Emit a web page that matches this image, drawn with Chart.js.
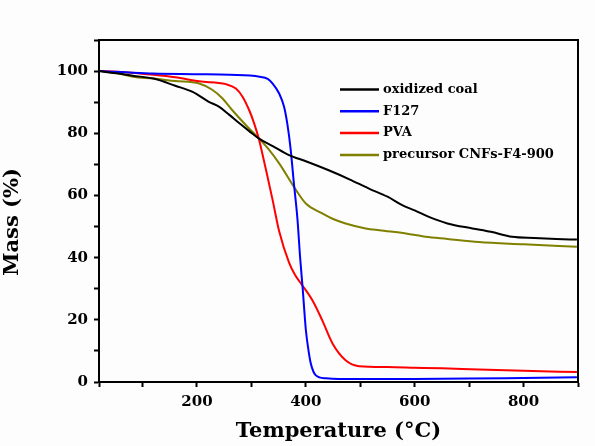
<!doctype html>
<html>
<head>
	<title>TGA curves</title>
	<meta charset="UTF-8">
	<script src="https://cdn.jsdelivr.net/npm/chart.js@4.4.1/dist/chart.umd.min.js"></script>
	<style>
		html, body { margin: 0; padding: 0; background: #fdfdfd; }
		#holder { width: 595px; height: 446px; }
	</style>
</head>
<body>
<div id="holder">
	<canvas id="tga"></canvas>
</div>
<script>
	// series labels
	var seriesNames = ['oxidized coal', 'F127', 'PVA', 'precursor CNFs-F4-900'];

	// oxidized coal
	var coalT = [20, 56, 82, 120, 160, 192, 221, 241, 259, 278, 296, 314, 340, 369, 400, 442, 480, 516, 550, 577, 600, 626, 660, 706, 740, 779, 820, 860, 898];
	var coalM = [100, 99.2, 98.5, 97.6, 95.3, 93.3, 90.2, 88.5, 86.0, 83.2, 80.7, 78.3, 75.8, 73, 71, 68.1, 65.2, 62.2, 59.6, 56.9, 55.2, 53.1, 51, 49.4, 48.3, 46.7, 46.3, 46, 45.8];

	// F127
	var f127T = [20, 60, 120, 200, 260, 315, 330, 339, 351, 360, 366, 372, 378, 384.6, 389.5, 394, 400, 405, 409, 414, 418, 425, 437, 460, 500, 600, 700, 800, 898];
	var f127M = [100, 99.7, 99.2, 99.0, 98.8, 98.2, 97.5, 96.0, 92.8, 88.5, 83, 75, 64, 52.4, 40, 30.5, 16.8, 10, 6, 3.3, 2.2, 1.5, 1.2, 1.0, 1.0, 1.0, 1.1, 1.3, 1.5];

	// PVA
	var pvaT = [20, 60, 120, 160, 204, 253, 271.5, 284, 296, 305, 314, 320, 327, 339, 351, 369, 380, 391, 412, 430, 449, 473, 498, 550, 600, 650, 718, 800, 898];
	var pvaM = [100, 99.7, 98.8, 98, 96.7, 95.8, 94.4, 91.7, 87.4, 83.2, 78, 73.5, 68.1, 58.5, 48.5, 38.5, 34.5, 31.7, 26.3, 19.9, 12.4, 7, 5.1, 4.8, 4.6, 4.4, 4.0, 3.6, 3.2];

	// precursor CNFs-F4-900
	var precT = [20, 56, 82, 120, 160, 204, 228, 247, 265, 290, 314, 330, 351, 382, 400, 430, 449, 473, 510, 535, 584, 620, 660, 718, 800, 898];
	var precM = [100, 99.2, 98.2, 97.6, 96.8, 96, 94, 91.2, 87.4, 82.6, 78.3, 75.2, 70.3, 61.7, 57.4, 54.2, 52.5, 51, 49.4, 48.8, 47.8, 46.7, 46, 45, 44.3, 43.5];

	var lineColors = ['#000000', '#0000ff', '#ff0000', '#808000'];

	function toPoints(xs, ys) {
		var pts = [];
		for (var i = 0; i < xs.length; i++) {
			pts.push({x: xs[i], y: ys[i]});
		}
		return pts;
	}

	var allT = [coalT, f127T, pvaT, precT];
	var allM = [coalM, f127M, pvaM, precM];
	var datasets = [];
	for (var s = 0; s < seriesNames.length; s++) {
		datasets.push({
			label: seriesNames[s],
			data: toPoints(allT[s], allM[s]),
			borderColor: lineColors[s],
			backgroundColor: lineColors[s],
			borderWidth: 2,
			pointRadius: 0,
			fill: false,
			cubicInterpolationMode: 'monotone'
		});
	}

	var serif = 'DejaVu Serif';

	// frame around plot + legend drawn inside the plot area
	var framePlugin = {
		id: 'frame',
		afterDraw: function (chart) {
			var ctx = chart.ctx;
			var a = chart.chartArea;
			ctx.save();
			ctx.strokeStyle = '#000';
			ctx.lineWidth = 2;
			ctx.strokeRect(a.left, a.top, a.right - a.left, a.bottom - a.top);

			ctx.font = 'bold 13px "' + serif + '"';
			ctx.textBaseline = 'middle';
			ctx.textAlign = 'left';
			var x0 = 340, y0 = 89.5, gap = 21.8;
			chart.data.datasets.forEach(function (ds, i) {
				var y = y0 + i * gap;
				ctx.strokeStyle = ds.borderColor;
				ctx.lineWidth = 2.5;
				ctx.beginPath();
				ctx.moveTo(x0, y);
				ctx.lineTo(x0 + 39, y);
				ctx.stroke();
				ctx.fillStyle = '#000';
				ctx.fillText(ds.label, x0 + 43, y);
			});
			ctx.restore();
		}
	};

	var config = {
		type: 'line',
		data: { datasets: datasets },
		options: {
			responsive: true,
			maintainAspectRatio: false,
			animation: false,
			layout: { padding: { left: 0, right: 17, top: 40, bottom: 0 } },
			plugins: {
				legend: { display: false },
				tooltip: { enabled: false }
			},
			scales: {
				x: {
					type: 'linear',
					min: 20,
					max: 900,
					afterFit: function (scale) { scale.height = 64; },
					border: { color: '#000', width: 2 },
					grid: { drawOnChartArea: false, drawTicks: true, tickLength: 5, tickWidth: 2, tickColor: '#000' },
					ticks: {
						stepSize: 100,
						autoSkip: false,
						maxRotation: 0,
						padding: 6,
						color: '#000',
						font: { family: serif, size: 15, weight: 'bold' },
						callback: function (v) { return (v % 200 === 0) ? v : ''; }
					},
					title: {
						display: true,
						text: 'Temperature (°C)',
						color: '#000',
						font: { family: serif, size: 21, weight: 'bold' },
						padding: { top: 0, bottom: 2 }
					}
				},
				y: {
					min: 0,
					max: 110,
					afterFit: function (scale) { scale.width = 99; },
					border: { color: '#000', width: 2 },
					grid: { drawOnChartArea: false, drawTicks: true, tickLength: 5, tickWidth: 2, tickColor: '#000' },
					ticks: {
						stepSize: 10,
						autoSkip: false,
						padding: 6,
						color: '#000',
						font: { family: serif, size: 15, weight: 'bold' },
						callback: function (v) { return (v % 20 === 0 && v <= 100) ? v : ''; }
					},
					title: {
						display: true,
						text: 'Mass (%)   ',
						color: '#000',
						font: { family: serif, size: 21, weight: 'bold' },
						padding: { top: 0, bottom: 0 }
					}
				}
			}
		},
		plugins: [framePlugin]
	};

	window.onload = function () {
		var ctx = document.getElementById('tga').getContext('2d');
		window.tgaChart = new Chart(ctx, config);
	};
</script>
</body>
</html>
